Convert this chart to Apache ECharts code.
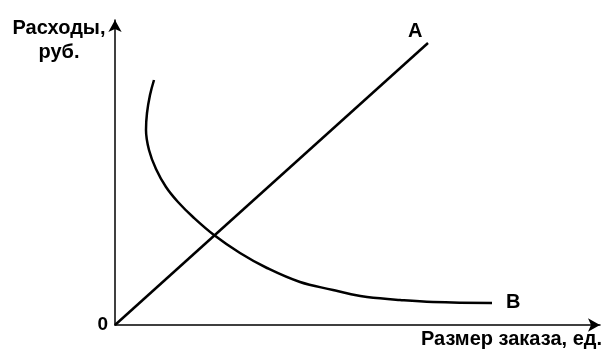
<!DOCTYPE html>
<html>
<head>
<meta charset="utf-8">
<script src="https://cdn.jsdelivr.net/npm/echarts@6/dist/echarts.min.js"></script>
<style>
  html, body { margin: 0; padding: 0; background: #fff; }
  #chart { width: 605px; height: 351px; }
</style>
</head>
<body>
<div id="chart"></div>
<script>
  // значения (условные единицы)
  var xMax = 485
  var yMax = 305
  var lineA = [[0, 0], [313, 282]]
  var curveB = [
    [39, 245], [35, 230], [32, 212], [31, 195], [34, 175], [41, 156],
    [51, 138], [63, 123], [78, 108], [99, 90], [125, 72], [152, 57], [185, 43],
    [218, 35], [235, 31], [252, 28], [285, 25], [318, 23], [377, 22]
  ]
  var yName = "Расходы,\nруб."
  var xName = "Размер заказа, ед."

  var font = "Liberation Sans, Arial, sans-serif"
  var chart = echarts.init(document.getElementById("chart"))

  var axisLine = {
    show: true,
    symbol: ["none", "arrow"],
    symbolSize: [10, 12],
    lineStyle: { color: "#000", width: 1.5 }
  }

  var option = {
    animation: false,
    grid: { left: 115, right: 5, top: 20, bottom: 26 },
    graphic: [
      {
        type: "text",
        right: 3,
        bottom: 2,
        style: {
          text: xName,
          fill: "#000",
          font: "bold 20px " + font
        }
      }
    ],
    xAxis: {
      type: "value",
      min: 0,
      max: xMax,
      axisLine: axisLine,
      axisTick: { show: false },
      axisLabel: { show: false },
      splitLine: { show: false }
    },
    yAxis: {
      type: "value",
      min: 0,
      max: yMax,
      axisLine: axisLine,
      axisTick: { show: false },
      axisLabel: {
        customValues: [0],
        formatter: function (v) { return v === 0 ? "0" : "" },
        color: "#000", fontFamily: font, fontSize: 19, fontWeight: "bold", margin: 7
      },
      splitLine: { show: false },
      name: yName,
      nameLocation: "end",
      nameGap: -20,
      nameTextStyle: {
        color: "#000", fontFamily: font, fontSize: 20, fontWeight: "bold",
        lineHeight: 24, align: "center", verticalAlign: "middle",
        padding: [0, 112, 0, 0]
      }
    },
    series: [
      {
        type: "line",
        data: lineA,
        showSymbol: false,
        lineStyle: { color: "#000", width: 2.5 },
        endLabel: {
          show: true, formatter: "A", offset: [-28, -12],
          color: "#000", fontFamily: font, fontSize: 20, fontWeight: "bold"
        }
      },
      {
        type: "line",
        data: curveB,
        showSymbol: false,
        smooth: 0.4,
        lineStyle: { color: "#000", width: 2.5 },
        endLabel: {
          show: true, formatter: "B", offset: [6, -1],
          color: "#000", fontFamily: font, fontSize: 20, fontWeight: "bold"
        }
      }
    ]
  }
  chart.setOption(option)
</script>
</body>
</html>
